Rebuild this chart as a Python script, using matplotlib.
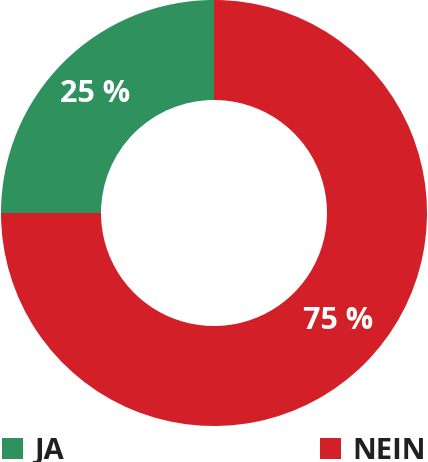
import matplotlib
matplotlib.use("Agg")
import matplotlib.pyplot as plt
from matplotlib.patches import Rectangle
import numpy as np

categories = ["JA", "NEIN"]
values = [25, 75]
labels = ["25 %", "75 %"]
colors = ["#2f915d", "#d31f28"]

W, H = 428, 462
fig = plt.figure(figsize=(W / 100, H / 100), dpi=100)
ax = fig.add_axes([0, 0, 1, 1])

cx, cy, R = 214, 462 - 213, 213
wedges, _ = ax.pie(values, colors=colors, startangle=90, counterclock=True,
                   radius=R, center=(cx, cy),
                   wedgeprops=dict(width=100, linewidth=0), frame=True)
ax.set_xlim(0, W)
ax.set_ylim(0, H)
ax.set_aspect("equal")
ax.axis("off")

font = "Open Sans"
offsets = [0, 4]
rad = [168, 165]
for w, lab, off, r in zip(wedges, labels, offsets, rad):
    ang = np.deg2rad((w.theta1 + w.theta2) / 2 + off)
    ax.text(cx + r * np.cos(ang), cy + r * np.sin(ang), lab, color="white",
            fontsize=22, fontweight="bold", family=font,
            ha="center", va="center")

sq = 21
leg_y = 462 - 459
ax.add_patch(Rectangle((2, leg_y), sq, sq, color=colors[0], lw=0))
ax.text(34, 3, categories[0], fontsize=21, fontweight="bold",
        family=font, color="#231f20", ha="left", va="baseline")
ax.add_patch(Rectangle((320, leg_y), sq, sq, color=colors[1], lw=0))
ax.text(352, 3, categories[1], fontsize=21, fontweight="bold",
        family=font, color="#231f20", ha="left", va="baseline")

fig.savefig("out.png", dpi=100)
